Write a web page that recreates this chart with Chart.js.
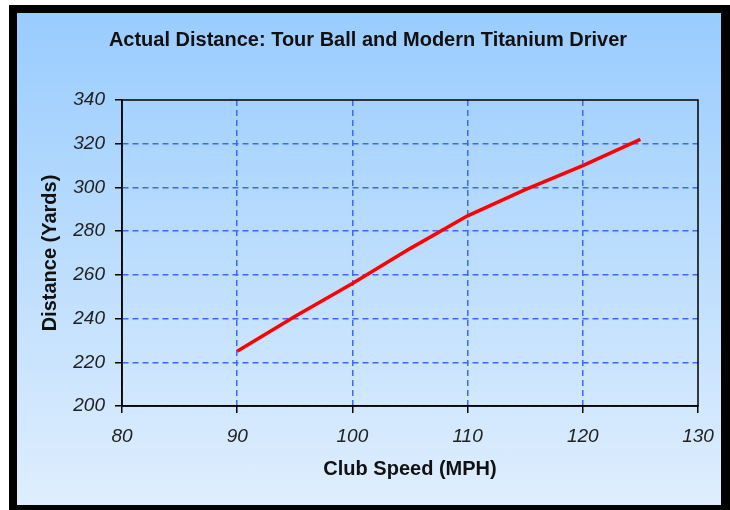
<!DOCTYPE html>
<html>
<head>
<meta charset="utf-8">
<script src="https://cdn.jsdelivr.net/npm/chart.js@4/dist/chart.umd.min.js"></script>
<style>
    body { margin: 0; background: #fff; }
    #frame { position: absolute; left: 9px; top: 5px; width: 721px; height: 505px; background: #000; }
    #panel { position: absolute; left: 17px; top: 13px; width: 704px; height: 492px;
             background: linear-gradient(to bottom, #99ccff 0%, #b9dcfd 45%, #dfeefe 100%); }
    #chart { position: absolute; left: 0; top: 0; }
</style>
</head>
<body>
<div id="frame"></div>
<div id="panel"></div>
<canvas id="chart" width="730" height="510"></canvas>
<script>
// club speed (mph) and carry distance (yards)
const clubSpeed = [90, 95, 100, 105, 110, 115, 120, 125];
const distance = [225, 241, 256, 272, 287, 299, 310, 322];

const xTicks = [80, 90, 100, 110, 120, 130];
const yTicks = [200, 220, 240, 260, 280, 300, 320, 340];

const gridBlue = '#3b68ff';
const tickFont = { family: 'Arial', size: 19, style: 'italic' };

// black box round the plot area
const plotBox = {
    id: 'plotBox',
    beforeDatasetsDraw(chart) {
        const { ctx, chartArea: a } = chart;
        ctx.save();
        ctx.strokeStyle = '#000';
        ctx.lineWidth = 1.5;
        ctx.strokeRect(a.left, a.top, a.right - a.left, a.bottom - a.top);
        ctx.restore();
    }
};

new Chart(document.getElementById('chart').getContext('2d'), {
    type: 'line',
    data: {
        datasets: [{
            data: clubSpeed.map((s, i) => ({ x: s, y: distance[i] })),
            borderColor: '#ff0000',
            borderWidth: 3.5,
            pointRadius: 0,
            tension: 0,
            fill: false
        }]
    },
    options: {
        responsive: false,
        animation: false,
        devicePixelRatio: 1,
        layout: { padding: { left: 38, right: 32, top: 0, bottom: 0 } },
        plugins: {
            legend: { display: false },
            tooltip: { enabled: false },
            title: {
                display: true,
                text: 'Actual Distance: Tour Ball and Modern Titanium Driver',
                color: '#111',
                font: { family: 'Arial', size: 20, weight: 'bold', lineHeight: 1.2 },
                padding: { top: 28, bottom: 48 }
            }
        },
        scales: {
            x: {
                type: 'linear',
                min: 80,
                max: 130,
                afterBuildTicks: s => { s.ticks = xTicks.map(v => ({ value: v })); },
                afterFit: s => { s.height = 104; },
                ticks: { font: tickFont, color: '#222', padding: 12, maxRotation: 0 },
                grid: {
                    color: c => (c.tick && c.tick.value === 130) ? 'rgba(0,0,0,0)' : gridBlue,
                    lineWidth: 1.5,
                    tickColor: '#000',
                    tickLength: 7,
                    tickWidth: 1.5,
                    tickBorderDash: []
                },
                border: { color: '#000', width: 1.5, dash: [6, 4] },
                title: {
                    display: true,
                    text: 'Club Speed (MPH)',
                    color: '#111',
                    font: { family: 'Arial', size: 20, weight: 'bold', lineHeight: 1 },
                    padding: { top: 0, bottom: 31 }
                }
            },
            y: {
                min: 200,
                max: 340,
                afterBuildTicks: s => { s.ticks = yTicks.map(v => ({ value: v })); },
                afterFit: s => { s.width = 84; },
                ticks: { font: tickFont, color: '#222', padding: 10 },
                grid: {
                    color: c => (c.tick && c.tick.value === 340) ? 'rgba(0,0,0,0)' : gridBlue,
                    lineWidth: 1.5,
                    tickColor: '#000',
                    tickLength: 7,
                    tickWidth: 1.5,
                    tickBorderDash: []
                },
                border: { color: '#000', width: 1.5, dash: [6, 4] },
                title: {
                    display: true,
                    text: 'Distance (Yards)',
                    color: '#111',
                    font: { family: 'Arial', size: 20, weight: 'bold', lineHeight: 1 },
                    padding: { top: 2, bottom: 0 }
                }
            }
        }
    },
    plugins: [plotBox]
});
</script>
</body>
</html>
